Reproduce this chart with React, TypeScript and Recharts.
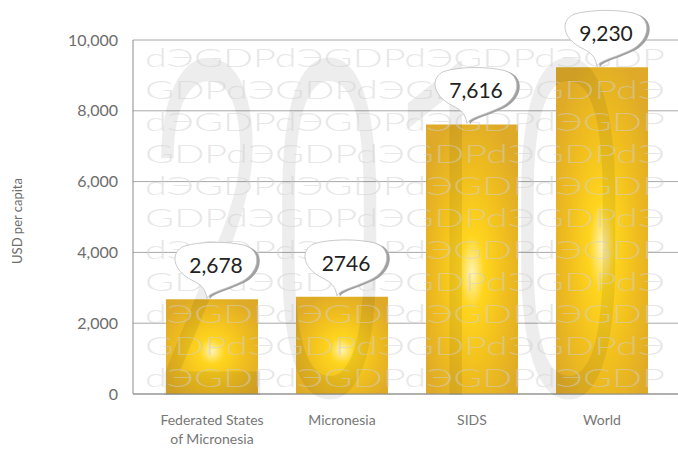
import { BarChart, Bar, XAxis, YAxis, CartesianGrid, LabelList } from 'recharts';

const CATEGORIES = ['Federated States\nof Micronesia', 'Micronesia', 'SIDS', 'World'];
const GDP_VALUES = [2678, 2746, 7616, 9230];
const VALUE_LABELS = ['2,678', '2746', '7,616', '9,230'];
const Y_TICKS = [0, 2000, 4000, 6000, 8000, 10000];
const WATERMARK_YEAR = '2010';
const WATERMARK_WORDS = ['dЭGDP', 'GDPdЭ'];

const W = 678;
const H = 450;
const FONT = "Lato, 'Open Sans', sans-serif";

const data = CATEGORIES.map((name, i) => ({
  name,
  gdp: GDP_VALUES[i],
  label: VALUE_LABELS[i],
}));

const CategoryTick = (props: any) => {
  const { x, y, payload } = props;
  const lines = String(payload.value).split('\n');
  return (
    <text x={x} y={y} textAnchor="middle" fill="#777" fontSize={14} fontFamily={FONT}>
      {lines.map((line, i) => (
        <tspan key={i} x={x} dy={i === 0 ? 31 : 19}>
          {line}
        </tspan>
      ))}
    </text>
  );
};

const bubblePath = (tx: number, ty: number, bx: number) =>
  `M ${tx} ${ty}
   C ${tx + 2} ${ty - 6}, ${bx + 14} ${ty - 10}, ${bx + 28} ${ty - 18}
   C ${bx + 44} ${ty - 28}, ${bx + 46} ${ty - 48}, ${bx + 28} ${ty - 53}
   C ${bx + 12} ${ty - 57}, ${bx - 16} ${ty - 57}, ${bx - 32} ${ty - 52}
   C ${bx - 46} ${ty - 46}, ${bx - 44} ${ty - 28}, ${bx - 24} ${ty - 18}
   C ${bx - 14} ${ty - 13}, ${tx - 2} ${ty - 10}, ${tx} ${ty} Z`;

const Bubble = (props: any) => {
  const { x, y, width, value } = props;
  const cx = Number(x) + Number(width) / 2;
  const tx = cx - 5;
  const ty = Number(y) - 1;
  const bx = cx + 4;
  const d = bubblePath(tx, ty, bx);
  return (
    <g>
      <path d={d} fill="#a0a0a0" transform="translate(3,1)" />
      <path d={d} fill="#fff" stroke="#bdbdbd" strokeWidth={0.8} />
      <text x={bx} y={ty - 25} textAnchor="middle" fontSize={21} fill="#222" fontFamily={FONT}>
        {value}
      </text>
    </g>
  );
};

const Watermark = () => {
  const rows = [];
  for (let k = 0; k < 11; k++) {
    const word = WATERMARK_WORDS[k % 2];
    rows.push(
      <text
        key={k}
        x={145}
        y={58 + k * 32 + 8.5}
        fontSize={25}
        fontFamily={FONT}
        fontWeight={300}
        fill="#d0d0d0"
        fillOpacity={0.5}
        textLength={520}
        lengthAdjust="spacingAndGlyphs"
      >
        {word.repeat(4)}
      </text>
    );
  }
  return (
    <svg width={W} height={H} style={{ position: 'absolute', left: 0, top: 0, pointerEvents: 'none' }}>
      <text
        x={150}
        y={395}
        fontSize={468}
        fontFamily="Roboto, 'Liberation Sans', sans-serif"
        fontWeight={300}
        fill="#000"
        fillOpacity={0.07}
        textLength={478}
        lengthAdjust="spacingAndGlyphs"
      >
        {WATERMARK_YEAR}
      </text>
      {rows}
    </svg>
  );
};

const chartMargin = { top: 40, right: 0, bottom: 6, left: 0 };

const App = () => {
  return (
    <div style={{ position: 'absolute', left: 0, top: 0, width: W, height: H, background: '#fff' }}>
      <div style={{ position: 'absolute', left: 0, top: 0 }}>
        <BarChart width={W} height={H} data={data} margin={chartMargin}>
          <defs>
            <radialGradient id="gold" cx="0.5" cy="0.55" r="0.62">
              <stop offset="0" stopColor="#FFF3B0" />
              <stop offset="0.22" stopColor="#FFD51E" />
              <stop offset="0.6" stopColor="#F0BE1E" />
              <stop offset="1" stopColor="#DEAA28" />
            </radialGradient>
          </defs>
          <CartesianGrid vertical={false} stroke="#a8a8a8" />
          <XAxis
            dataKey="name"
            height={50}
            padding={{ left: 14, right: 11 }}
            tickSize={0}
            tickMargin={0}
            interval={0}
            axisLine={{ stroke: '#8c8c8c' }}
            tick={<CategoryTick />}
          />
          <YAxis
            width={133}
            domain={[0, 10000]}
            ticks={Y_TICKS}
            tickFormatter={(v: number) => v.toLocaleString('en-US')}
            tickSize={0}
            tickMargin={15}
            axisLine={{ stroke: '#8c8c8c' }}
            tick={{ fill: '#6d6d6d', fontSize: 16, fontFamily: FONT }}
            label={{
              content: (p: any) => {
                const vb = p.viewBox;
                const lx = vb.x + 22;
                const ly = vb.y + vb.height / 2 + 4;
                return (
                  <text
                    x={lx}
                    y={ly}
                    transform={`rotate(-90 ${lx} ${ly})`}
                    textAnchor="middle"
                    fontSize={13}
                    fill="#6d6d6d"
                    fontFamily={FONT}
                  >
                    USD per capita
                  </text>
                );
              },
            }}
          />
          <Bar dataKey="gdp" barSize={92} fill="url(#gold)" isAnimationActive={false} />
        </BarChart>
      </div>
      <Watermark />
      <div style={{ position: 'absolute', left: 0, top: 0 }}>
        <BarChart width={W} height={H} data={data} margin={chartMargin}>
          <XAxis dataKey="name" height={50} padding={{ left: 14, right: 11 }} tick={false} axisLine={false} tickLine={false} />
          <YAxis width={133} domain={[0, 10000]} ticks={Y_TICKS} tick={false} axisLine={false} tickLine={false} />
          <Bar dataKey="gdp" barSize={92} fill="transparent" isAnimationActive={false}>
            <LabelList dataKey="label" content={<Bubble />} />
          </Bar>
        </BarChart>
      </div>
    </div>
  );
};

export default App;
